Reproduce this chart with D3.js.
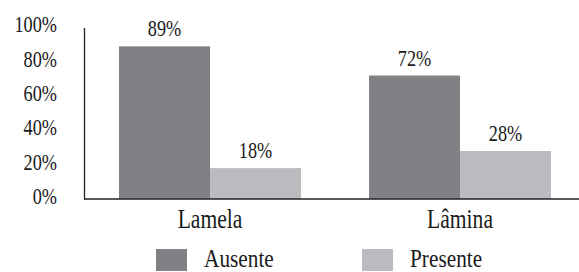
<!DOCTYPE html>
<html>
<head>
<meta charset="utf-8">
<script src="https://cdn.jsdelivr.net/npm/d3@7"></script>
<style>
    body { margin: 0; background: #fff; }
    text { font-family: "Liberation Serif", "Times New Roman", serif; fill: #1a1a1a; }
</style>
</head>
<body>
<svg width="579" height="272"></svg>
<script>

// data
const categories = ["Lamela", "Lâmina"];
const series = ["Ausente", "Presente"];
const ausente = [89, 72];
const presente = [18, 28];
const yTicks = [0, 20, 40, 60, 80, 100];
const colors = ["#808185", "#bbbcbf"];

const svg = d3.select("svg");
const squeeze = 0.76;   // the original type is a condensed serif

const x0 = d3.scaleBand().domain(categories).range([85, 585])
    .paddingInner(0.272).paddingOuter(0.136);
const x1 = d3.scaleBand().domain(series).range([0, x0.bandwidth()]);
const y = d3.scaleLinear().domain([0, 100]).range([199, 27.5]);
const color = d3.scaleOrdinal().domain(series).range(colors);

const rows = categories.map((c, i) => ({cat: c, vals: [
    {key: "Ausente", v: ausente[i]},
    {key: "Presente", v: presente[i]}
]}));

// bars
const grp = svg.selectAll("g.cat").data(rows).enter().append("g")
    .attr("class", "cat")
    .attr("transform", d => "translate(" + x0(d.cat) + ",0)");

grp.selectAll("rect").data(d => d.vals).enter().append("rect")
    .attr("x", d => x1(d.key))
    .attr("y", d => y(d.v))
    .attr("width", x1.bandwidth())
    .attr("height", d => y(0) - y(d.v))
    .attr("fill", d => color(d.key));

// value labels
grp.selectAll("text").data(d => d.vals).enter().append("text")
    .attr("transform", d => "translate(" + (x1(d.key) + x1.bandwidth() / 2) + "," + (y(d.v) - 10) + ") scale(" + squeeze + ",1)")
    .attr("text-anchor", "middle")
    .style("font-size", "24px")
    .text(d => d.v + "%");

// y axis
const yAxis = svg.append("g")
    .attr("transform", "translate(84,0)")
    .call(d3.axisLeft(y).tickValues(yTicks).tickSize(0).tickSizeOuter(0).tickFormat(d => d + "%"));
yAxis.select(".domain").attr("stroke", "#222").attr("stroke-width", 1.3);
yAxis.selectAll(".tick text")
    .attr("x", -27 / squeeze)
    .attr("dy", "0.18em")
    .attr("transform", "scale(" + squeeze + ",1)")
    .attr("fill", "#1a1a1a")
    .style("font-family", "'Liberation Serif', serif")
    .style("font-size", "24px");

// baseline
svg.append("line")
    .attr("x1", 84).attr("x2", 579)
    .attr("y1", y(0)).attr("y2", y(0))
    .attr("stroke", "#222").attr("stroke-width", 1.5);

// category labels
svg.selectAll("text.cat").data(categories).enter().append("text")
    .attr("class", "cat")
    .attr("transform", d => "translate(" + (x0(d) + x0.bandwidth() / 2) + ",228) scale(0.8,1)")
    .attr("text-anchor", "middle")
    .style("font-size", "27px")
    .text(d => d);

// legend
const legX = [156, 362];
const leg = svg.selectAll("g.leg").data(series).enter().append("g")
    .attr("class", "leg")
    .attr("transform", (d, i) => "translate(" + legX[i] + ",249)");
leg.append("rect")
    .attr("width", 31).attr("height", 22)
    .attr("fill", d => color(d));
leg.append("text")
    .attr("transform", "translate(48,18) scale(0.82,1)")
    .style("font-size", "26px")
    .text(d => d);

</script>
</body>
</html>
